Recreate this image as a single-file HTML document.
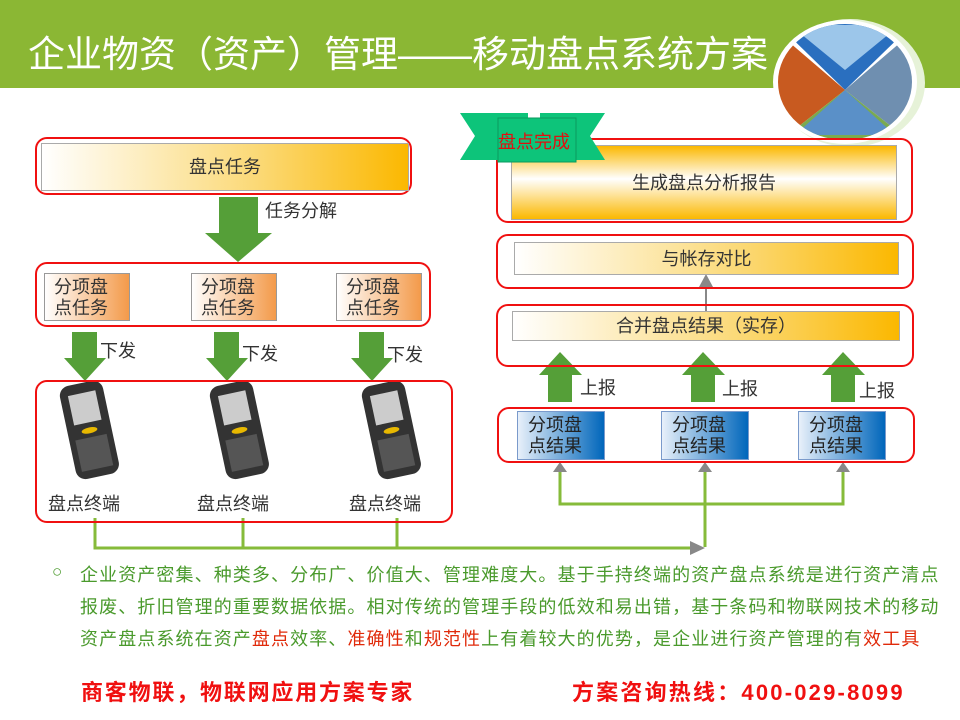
<!DOCTYPE html>
<html><head><meta charset="utf-8"><style>
body{margin:0;width:960px;height:720px;position:relative;background:#fff;overflow:hidden;font-family:"Liberation Sans","Noto Sans CJK SC",sans-serif}
.a{position:absolute}
.rb{position:absolute;border:2px solid #f01010;border-radius:12px;box-sizing:border-box}
.gb{position:absolute;border:1px solid #aaa;box-sizing:border-box;background:linear-gradient(90deg,#fff,#fbd873 60%,#fbb800);color:#333;text-align:center;font-size:18px}
.ob{position:absolute;border:1px solid #999;box-sizing:border-box;background:linear-gradient(90deg,#fff,#f39a4a);color:#333;font-size:18px;line-height:21px;padding:3px 0 0 9px;width:86px;height:48px}
.bb{position:absolute;border:1px solid #7a9acb;box-sizing:border-box;background:linear-gradient(90deg,#e8f0fa,#0066bb);color:#222;font-size:18px;line-height:21px;padding:3px 0 0 10px;width:88px;height:49px}
.lbl{position:absolute;font-size:18px;color:#333}
.t{position:absolute;left:80px;font-size:18px;letter-spacing:1.1px;color:#4a9a2c;white-space:nowrap}
.r{color:#e02a0a}
</style></head><body>
<div class="a" style="left:0;top:0;width:960px;height:88px;background:#8bb734"></div>
<div class="a" style="left:28px;top:24px;font-size:37px;color:#fff;white-space:nowrap">企业物资（资产）管理——移动盘点系统方案</div>
<svg class="a" style="left:0;top:0" width="960" height="720">
<ellipse cx="850" cy="83" rx="75" ry="64" fill="#e6f2d8"/>
<ellipse cx="845" cy="82" rx="72" ry="62" fill="#fff"/>
<clipPath id="c"><ellipse cx="845" cy="82" rx="67" ry="58"/></clipPath>
<g clip-path="url(#c)">
<polygon points="775,22 915,22 845,90" fill="#2a6fbf"/>
<polygon points="790,25 900,25 845,70" fill="#9cc6ea"/>
<polygon points="775,30 845,90 775,145" fill="#c85a20"/>
<polygon points="915,30 845,90 915,145" fill="#6f8fb0"/>
<polygon points="845,90 775,145 915,145" fill="#7aaa50"/>
<polygon points="845,90 795,135 895,135" fill="#5a90c8"/>
</g>
<polygon points="219,197 258,197 258,233 272,233 238,262 205,233 219,233" fill="#559f38"/>
<g fill="#559f38">
<polygon points="72,332 97,332 97,358 106,358 85,381 64,358 72,358"/>
<polygon points="214,332 239,332 239,358 248,358 227,381 206,358 214,358"/>
<polygon points="359,332 384,332 384,358 393,358 372,381 351,358 359,358"/>
<polygon points="548,402 572,402 572,375 582,375 560,352 539,375 548,375"/>
<polygon points="691,402 715,402 715,375 725,375 703,352 682,375 691,375"/>
<polygon points="831,402 855,402 855,375 865,375 843,352 822,375 831,375"/>
</g>
<g stroke="#86bb3a" stroke-width="3" fill="none">
<polyline points="95,518 95,548 695,548"/>
<line x1="243" y1="518" x2="243" y2="548"/>
<line x1="397" y1="518" x2="397" y2="548"/>
<polyline points="705,547 705,504"/>
<polyline points="560,470 560,504 843,504 843,470"/>
<line x1="705" y1="504" x2="705" y2="470"/>
</g>
<g fill="#888">
<polygon points="690,541 705,548 690,555"/>
<polygon points="553,472 560,462 567,472"/>
<polygon points="698,472 705,462 712,472"/>
<polygon points="836,472 843,462 850,472"/>
<line x1="706" y1="311" x2="706" y2="285" stroke="#888" stroke-width="2"/>
<polygon points="699,287 706,274 713,287"/>
</g>
<g>
<g transform="translate(58,388) rotate(-12)"><rect x="0" y="0" width="44" height="95" rx="10" fill="#333"/><rect x="8" y="10" width="28" height="30" fill="#ccc"/><ellipse cx="22" cy="48" rx="8" ry="3" fill="#e8b800"/><rect x="6" y="55" width="32" height="32" fill="#555"/></g>
<g transform="translate(208,388) rotate(-12)"><rect x="0" y="0" width="44" height="95" rx="10" fill="#333"/><rect x="8" y="10" width="28" height="30" fill="#ccc"/><ellipse cx="22" cy="48" rx="8" ry="3" fill="#e8b800"/><rect x="6" y="55" width="32" height="32" fill="#555"/></g>
<g transform="translate(360,388) rotate(-12)"><rect x="0" y="0" width="44" height="95" rx="10" fill="#333"/><rect x="8" y="10" width="28" height="30" fill="#ccc"/><ellipse cx="22" cy="48" rx="8" ry="3" fill="#e8b800"/><rect x="6" y="55" width="32" height="32" fill="#555"/></g>
</g>
</svg>

<div class="rb" style="left:35px;top:137px;width:377px;height:58px"></div>
<div class="gb" style="left:41px;top:143px;width:368px;height:48px;line-height:46px">盘点任务</div>
<div class="lbl" style="left:265px;top:197px">任务分解</div>
<div class="rb" style="left:35px;top:262px;width:396px;height:65px"></div>
<div class="ob" style="left:44px;top:273px">分项盘<br>点任务</div>
<div class="ob" style="left:191px;top:273px">分项盘<br>点任务</div>
<div class="ob" style="left:336px;top:273px">分项盘<br>点任务</div>
<div class="lbl" style="left:100px;top:337px">下发</div>
<div class="lbl" style="left:242px;top:340px">下发</div>
<div class="lbl" style="left:387px;top:341px">下发</div>
<div class="rb" style="left:35px;top:380px;width:418px;height:143px"></div>
<div class="lbl" style="left:48px;top:490px">盘点终端</div>
<div class="lbl" style="left:197px;top:490px">盘点终端</div>
<div class="lbl" style="left:349px;top:490px">盘点终端</div>

<div class="rb" style="left:496px;top:138px;width:417px;height:85px"></div>
<div class="a" style="left:511px;top:145px;width:386px;height:75px;border:1px solid #aaa;box-sizing:border-box;background:linear-gradient(180deg,#fbb800,#fff 45%,#fbb800);text-align:center;line-height:74px;font-size:18px;color:#333">生成盘点分析报告</div>
<svg class="a" style="left:455px;top:108px" width="160" height="60">
<polygon points="5,5 73,5 73,52 5,52 20,28" fill="#0dc47a"/>
<polygon points="150,5 85,5 85,52 150,52 135,28" fill="#0dc47a"/>
<rect x="43" y="10" width="78" height="44" fill="#0dc47a" stroke="#0a9a5e" stroke-width="1"/>
</svg>
<div class="a" style="left:498px;top:128px;font-size:18px;color:#e01010">盘点完成</div>
<div class="rb" style="left:496px;top:234px;width:418px;height:55px"></div>
<div class="gb" style="left:514px;top:242px;width:385px;height:33px;line-height:32px">与帐存对比</div>
<div class="rb" style="left:496px;top:304px;width:418px;height:63px"></div>
<div class="gb" style="left:512px;top:311px;width:388px;height:30px;line-height:29px">合并盘点结果（实存）</div>
<div class="lbl" style="left:580px;top:374px">上报</div>
<div class="lbl" style="left:722px;top:375px">上报</div>
<div class="lbl" style="left:859px;top:377px">上报</div>
<div class="rb" style="left:497px;top:407px;width:418px;height:56px"></div>
<div class="bb" style="left:517px;top:411px">分项盘<br>点结果</div>
<div class="bb" style="left:661px;top:411px">分项盘<br>点结果</div>
<div class="bb" style="left:798px;top:411px">分项盘<br>点结果</div>

<div class="a" style="left:52px;top:562px;font-size:17px;color:#4a9a2c">○</div>
<div class="t" style="top:561px">企业资产密集、种类多、分布广、价值大、管理难度大。基于手持终端的资产盘点系统是进行资产清点</div>
<div class="t" style="top:593px">报废、折旧管理的重要数据依据。相对传统的管理手段的低效和易出错，基于条码和物联网技术的移动</div>
<div class="t" style="top:625px">资产盘点系统在资产<span class="r">盘点</span>效率、<span class="r">准确性</span>和<span class="r">规范性</span>上有着较大的优势，是企业进行资产管理的有<span class="r">效工具</span></div>
<div class="a" style="left:81px;top:675px;font-size:22px;letter-spacing:1.8px;font-weight:bold;color:#f01010;white-space:nowrap">商客物联，物联网应用方案专家</div>
<div class="a" style="left:572px;top:675px;font-size:22px;letter-spacing:2.2px;font-weight:bold;color:#f01010;white-space:nowrap">方案咨询热线：400-029-8099</div>
</body></html>
